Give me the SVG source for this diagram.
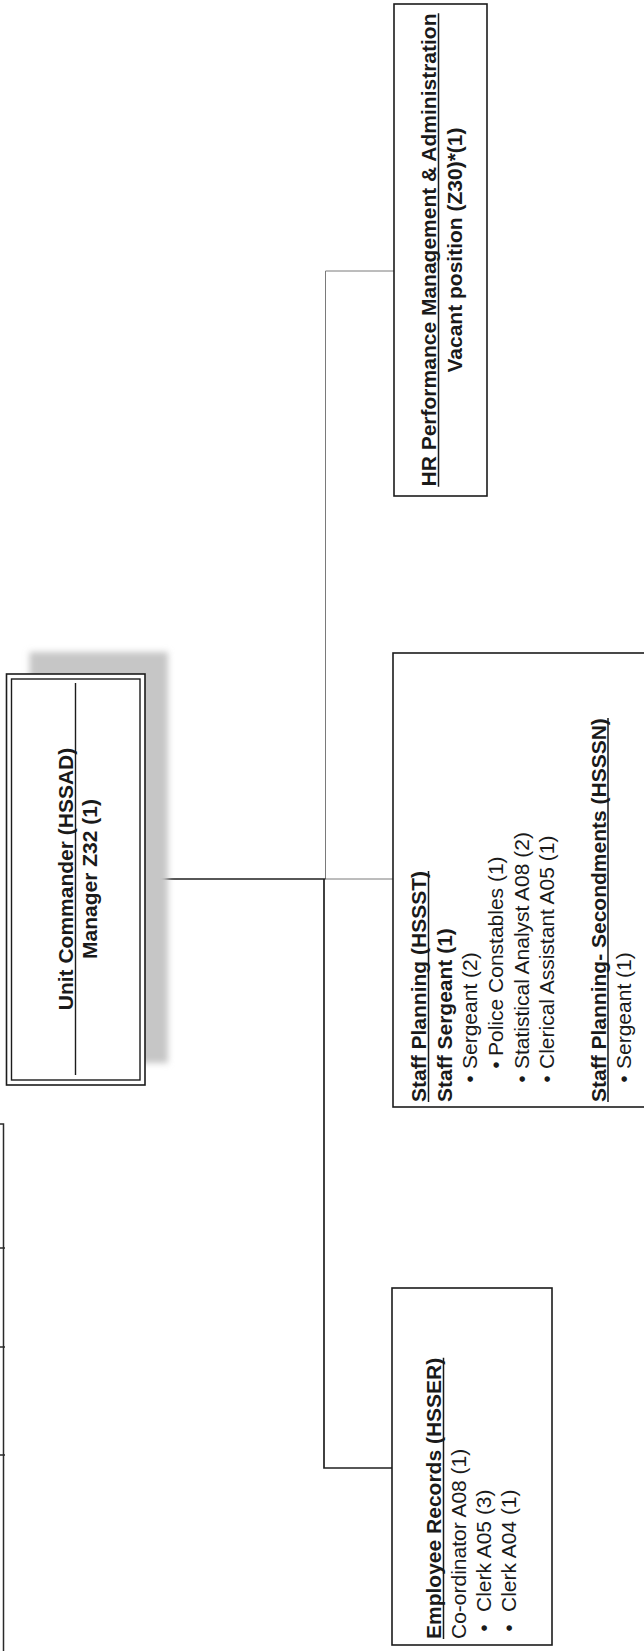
<svg xmlns="http://www.w3.org/2000/svg" width="644" height="1651" viewBox="0 0 644 1651">
  <defs>
    <filter id="soft" x="-20%" y="-20%" width="140%" height="140%">
      <feGaussianBlur stdDeviation="3"/>
    </filter>
  </defs>
  <style>
    .box{fill:#fff;stroke:#1c1c1c;stroke-width:1.6}
    .t{font-family:"Liberation Sans",Arial,sans-serif;font-size:21px;fill:#1a1a1a}
    .b{font-weight:bold}
    .ul{stroke:#1a1a1a;stroke-width:1.5;fill:none}
    .thin{stroke:#7a7a7a;stroke-width:1;fill:none}
    .thick{stroke:#202020;stroke-width:1.7;fill:none}
    .edge{stroke:#2a2a2a;stroke-width:1.5;fill:none}
  </style>
  <rect width="644" height="1651" fill="#fff"/>

  <!-- right border of a table running off the left page edge -->
  <g id="page-edge-table">
    <path class="edge" d="M0 1124H3.5V1651M0 1248H5M0 1347H5M0 1455H5"/>
  </g>

  <!-- connectors -->
  <g id="connectors">
    <path class="thin" d="M325.5 271V879M325.5 271H394M325.5 879H393"/>
    <path class="thick" d="M145 879H325.5M324 879V1468H392"/>
  </g>

  <g id="hr-performance">
    <rect class="box" x="394" y="4" width="93" height="492"/>
    <g transform="rotate(-90)">
      <text class="t b" x="-250" y="436" text-anchor="middle">HR Performance Management &amp; Administration</text>
      <text class="t b" x="-250" y="461.5" text-anchor="middle">Vacant position (Z30)*(1)</text>
    </g>
    <!-- heading underline -->
    <path class="ul" d="M438.5 13.2V486.8"/>
  </g>

  <g id="unit-commander">
    <rect x="29.5" y="652" width="138.5" height="411" fill="#c6c6c6" filter="url(#soft)"/>
    <rect class="box" x="6.5" y="674" width="138.5" height="411" stroke-width="2"/>
    <rect x="11.5" y="679" width="128.5" height="401" fill="none" stroke="#1c1c1c" stroke-width="1.4"/>
    <line x1="75.5" y1="683" x2="75.5" y2="1075" stroke="#1c1c1c" stroke-width="1.4"/>
    <g transform="rotate(-90)">
      <text class="t b" x="-879" y="73" text-anchor="middle">Unit Commander (HSSAD)</text>
      <text class="t b" x="-879" y="97" text-anchor="middle">Manager Z32 (1)</text>
    </g>
  </g>

  <g id="staff-planning">
    <rect class="box" x="393" y="653" width="270" height="454"/>
    <g transform="rotate(-90)">
      <text class="t b" x="-1102" y="426">Staff Planning (HSSST)</text>
      <text class="t b" x="-1102" y="451.5">Staff Sergeant (1)</text>
      <text class="t" x="-1079" y="477" text-anchor="middle">•</text>
      <text class="t" x="-1069" y="477">Sergeant (2)</text>
      <text class="t" x="-1065" y="503" text-anchor="middle">•</text>
      <text class="t" x="-1056" y="503">Police Constables (1)</text>
      <text class="t" x="-1079" y="528.5" text-anchor="middle">•</text>
      <text class="t" x="-1069" y="528.5">Statistical Analyst A08 (2)</text>
      <text class="t" x="-1079" y="554" text-anchor="middle">•</text>
      <text class="t" x="-1069" y="554">Clerical Assistant A05 (1)</text>
      <text class="t b" x="-1102" y="605.5">Staff Planning- Secondments (HSSSN)</text>
      <text class="t" x="-1079" y="631" text-anchor="middle">•</text>
      <text class="t" x="-1069" y="631">Sergeant (1)</text>
    </g>
    <!-- heading underlines -->
    <path class="ul" d="M428.5 871V1102M608 718.1V1102"/>
  </g>

  <g id="employee-records">
    <rect class="box" x="392" y="1288" width="160" height="357"/>
    <g transform="rotate(-90)">
      <text class="t b" x="-1639" y="441">Employee Records (HSSER)</text>
      <text class="t" x="-1639" y="466">Co-ordinator A08 (1)</text>
      <text class="t" x="-1628" y="491" text-anchor="middle">•</text>
      <text class="t" x="-1612" y="491">Clerk A05 (3)</text>
      <text class="t" x="-1628" y="516" text-anchor="middle">•</text>
      <text class="t" x="-1612" y="516">Clerk A04 (1)</text>
    </g>
    <!-- heading underline -->
    <path class="ul" d="M443.5 1357.8V1639"/>
  </g>
</svg>
